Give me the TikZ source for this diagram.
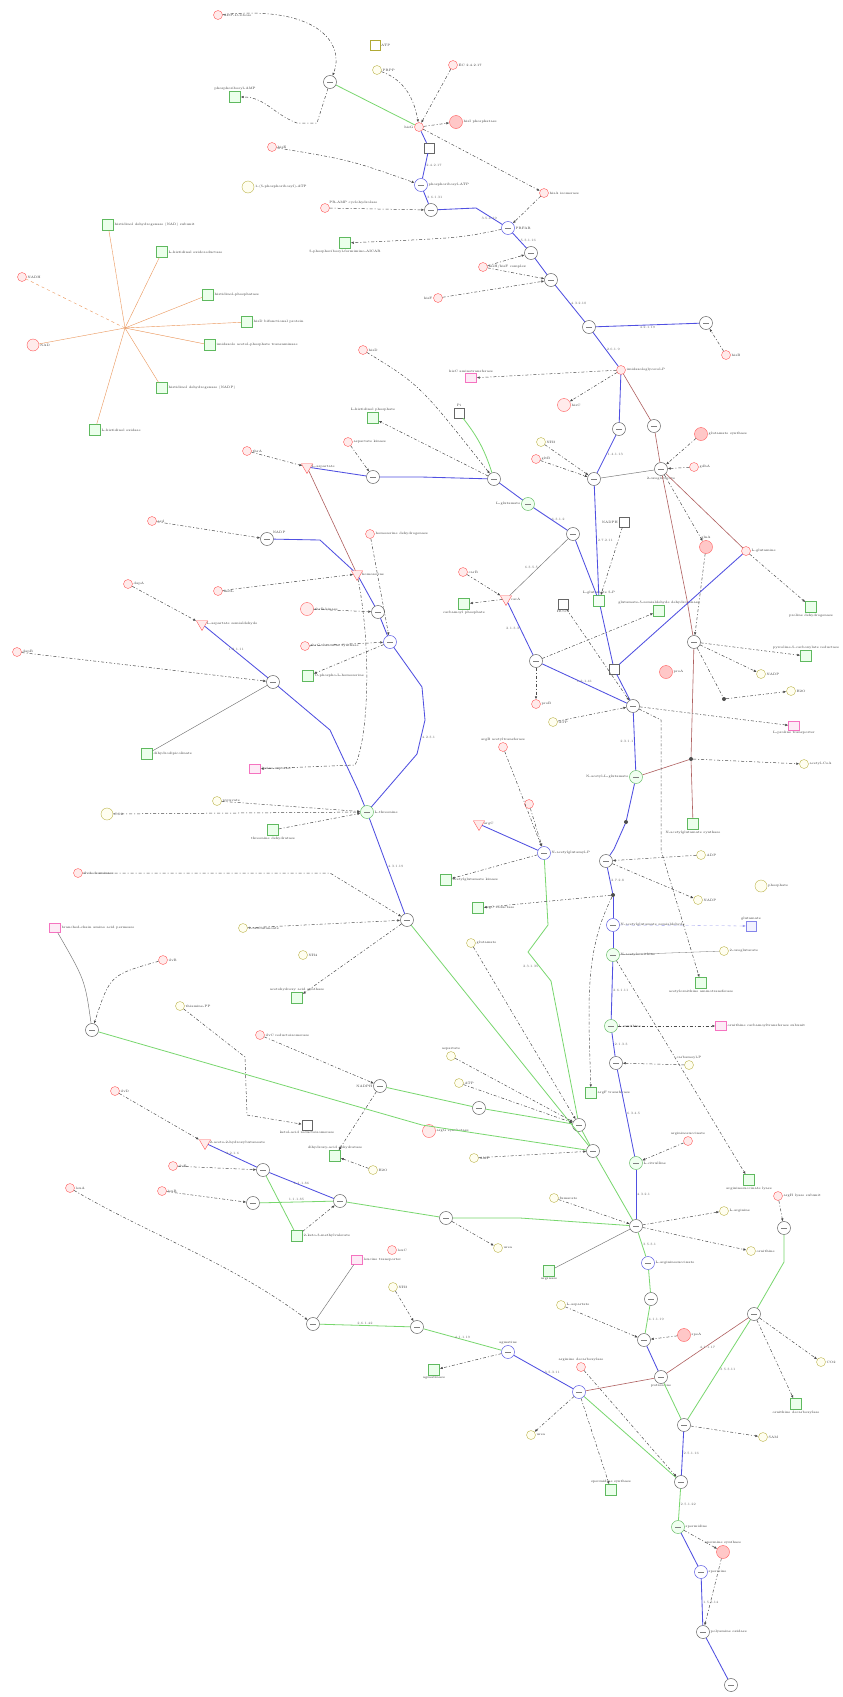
\documentclass[tikz,border=0pt]{standalone}
\usepackage{tikz}
\usetikzlibrary{arrows.meta,shapes.geometric}

\definecolor{sqgreen}{RGB}{95,185,95}
\definecolor{lngreen}{RGB}{120,215,110}
\definecolor{lnblue}{RGB}{80,80,225}
\definecolor{lnbrown}{RGB}{175,95,95}
\definecolor{lnorange}{RGB}{235,150,90}

\tikzset{
  lbl/.style={font=\fontsize{3.3}{3.8}\selectfont, text=black!80, inner sep=0.8pt},
  elbl/.style={lbl, text=black!60},
  proc/.style={circle, draw=black!65, fill=white, minimum size=13pt, inner sep=0pt, line width=0.45pt,
    path picture={\draw[black!50, line width=0.3pt] ([xshift=-3pt]path picture bounding box.center) -- ([xshift=3pt]path picture bounding box.center);}},
  bproc/.style={proc, draw=lnblue},
  gproc/.style={proc, draw=sqgreen, fill=green!6},
  rmol/.style={circle, draw=red!65, fill=red!8, minimum size=9pt, inner sep=0pt, line width=0.4pt},
  rbig/.style={rmol, minimum size=13pt, fill=red!22},
  rtri/.style={regular polygon, regular polygon sides=3, shape border rotate=180, draw=red!65, fill=red!8, minimum size=13pt, inner sep=0pt, line width=0.4pt},
  gsq/.style={rectangle, draw=sqgreen, fill=green!8, minimum size=11pt, inner sep=0pt, line width=0.45pt},
  tan/.style={circle, draw=olive!60, fill=yellow!6, minimum size=9pt, inner sep=0pt, line width=0.4pt},
  pbox/.style={rectangle, draw=magenta!55, fill=magenta!8, minimum width=11pt, minimum height=9pt, inner sep=0pt, line width=0.4pt},
  gbox/.style={rectangle, draw=black!60, fill=white, minimum size=10pt, inner sep=0pt, line width=0.4pt},
  dot/.style={circle, fill=black!70, minimum size=4pt, inner sep=0pt},
  bl/.style={draw=lnblue, line width=0.85pt},
  gr/.style={draw=lngreen, line width=0.8pt},
  br/.style={draw=lnbrown, line width=0.6pt},
  gy/.style={draw=black!55, line width=0.45pt},
  og/.style={draw=lnorange, line width=0.4pt},
  ds/.style={draw=black!70, line width=0.5pt, dash pattern=on 3pt off 2pt on 1pt off 2pt, -{Latex[length=3pt,width=2.5pt]}}
}

\begin{document}
\begin{tikzpicture}[x=1pt, y=-1pt]
  \useasboundingbox[fill=white] (0,0) rectangle (843,1697);

  % histidine branch, top
  \node[rmol, label={[lbl]right:ADP-D-ribose}] (n01) at (218,15) {};
  \node[proc] (p01) at (330,82) {};
  \node[gsq, label={[lbl]above:phosphoribosyl-AMP}] (s01) at (235,97) {};
  \node[gbox, draw=olive!70, label={[lbl]right:ATP}] (t01) at (375,45) {};
  \node[tan, label={[lbl]right:PRPP}] (t02) at (377,70) {};
  \node[rmol, label={[lbl]left:hisG}] (x01) at (419,127) {};
  \node[rmol, label={[lbl]right:EC 2.4.2.17}] (r02) at (453,65) {};
  \node[rbig, label={[lbl]right:hisI phosphatase}] (r03) at (456,122) {};
  \node[gbox] (q01) at (429,148) {};
  \node[bproc, label={[lbl]right:phosphoribosyl-ATP}] (b01) at (421,185) {};
  \node[rmol, label={[lbl]right:hisE}] (r04) at (272,147) {};
  \node[tan, minimum size=12pt, label={[lbl]right:1-(5-phosphoribosyl)-ATP}] (y01) at (248,187) {};
  \node[proc] (p02) at (431,210) {};
  \node[rmol, label={[lbl]above right:PR-AMP cyclohydrolase}] (r05) at (325,208) {};
  \node[gsq, label={[lbl]below:5-phosphoribosyl-formimino-AICAR}] (s02) at (345,243) {};
  \node[bproc, label={[lbl]right:PRFAR}] (b02) at (508,228) {};
  \node[rmol, label={[lbl]right:hisA isomerase}] (r06) at (544,193) {};
  \node[proc] (p03) at (531,253) {};
  \node[rmol, label={[lbl]right:hisH/hisF complex}] (r07) at (483,267) {};
  \node[proc] (p04) at (551,280) {};
  \node[rmol, label={[lbl]left:hisF}] (r08) at (438,298) {};
  \node[proc] (p05) at (589,327) {};
  \node[proc] (p06) at (706,323) {};
  \node[rmol, label={[lbl]right:hisB}] (r09) at (726,355) {};
  \node[rmol, label={[lbl]right:imidazoleglycerol-P}] (r10) at (621,370) {};
  \node[pbox, label={[lbl]above:hisC aminotransferase}] (k01) at (471,378) {};
  \node[rbig, fill=red!8, label={[lbl]right:hisC}] (r11) at (564,405) {};
  \node[gbox, label={[lbl]above:Pi}] (t03) at (459,413) {};

  % histidinol dehydrogenase hub
  \coordinate (h00) at (125,328);
  \node[gsq, label={[lbl]right:histidinol dehydrogenase (NAD) subunit}] (s03) at (108,225) {};
  \node[gsq, label={[lbl]right:L-histidinal oxidoreductase}] (s04) at (162,252) {};
  \node[gsq, label={[lbl]right:histidinol-phosphatase}] (s05) at (208,295) {};
  \node[gsq, label={[lbl]right:hisD bifunctional protein}] (s06) at (247,322) {};
  \node[gsq, label={[lbl]right:imidazole acetol-phosphate transaminase}] (s07) at (210,345) {};
  \node[gsq, label={[lbl]right:histidinol dehydrogenase (NADP)}] (s08) at (162,388) {};
  \node[gsq, label={[lbl]right:L-histidinol oxidase}] (s09) at (95,430) {};
  \node[rmol, label={[lbl]right:NADH}] (r12) at (22,277) {};
  \node[rmol, minimum size=12pt, label={[lbl]right:NAD}] (r13) at (33,345) {};
  \node[rmol, label={[lbl]right:hisD}] (r14) at (363,350) {};
  \node[gsq, label={[lbl]above:L-histidinol phosphate}] (s10) at (373,418) {};

  % central block
  \node[proc] (p07) at (619,429) {};
  \node[proc] (p08) at (654,426) {};
  \node[rbig, label={[lbl]right:glutamate synthase}] (r15) at (701,434) {};
  \node[tan, label={[lbl]right:NH3}] (t04) at (541,442) {};
  \node[rmol, label={[lbl]right:gltB}] (r16) at (536,459) {};
  \node[proc] (p09) at (494,479) {};
  \node[proc] (p10) at (594,479) {};
  \node[proc, label={[lbl]below:2-oxoglutarate}] (p11) at (661,469) {};
  \node[rmol, label={[lbl]right:gdhA}] (r17) at (694,467) {};
  \node[gproc, label={[lbl]left:L-glutamate}] (c01) at (528,504) {};
  \node[proc] (p12) at (573,534) {};
  \node[gbox, label={[lbl]left:NADPH}] (q02) at (624,522) {};
  \node[rbig, label={[lbl]above:glnA}] (r18) at (706,547) {};
  \node[rmol, label={[lbl]right:L-glutamine}] (r19) at (746,551) {};
  \node[rmol, label={[lbl]right:carB}] (r20) at (463,572) {};
  \node[rtri, label={[lbl]right:carA}] (rt1) at (506,599) {};
  \node[gsq, label={[lbl]below:carbamoyl phosphate}] (s11) at (464,604) {};
  \node[gsq, fill=green!4, label={[lbl]above:L-glutamate 5-P}] (c02) at (599,601) {};
  \node[gbox, label={[lbl]below:HCO3}] (q03) at (563,604) {};
  \node[gsq, label={[lbl]above:glutamate-5-semialdehyde dehydrogenase}] (s12) at (659,611) {};
  \node[gsq, label={[lbl]below:proline dehydrogenase}] (s13) at (811,607) {};
  \node[proc] (p13) at (694,642) {};
  \node[proc] (p14) at (536,661) {};
  \node[gbox] (q04) at (614,669) {};
  \node[rbig, label={[lbl]right:proA}] (r21) at (666,672) {};
  \node[gsq, label={[lbl]above:pyrroline-5-carboxylate reductase}] (s14) at (806,656) {};
  \node[tan, label={[lbl]right:NADP}] (t05) at (761,674) {};
  \node[tan, label={[lbl]right:H2O}] (t06) at (791,691) {};
  \node[proc] (p15) at (633,706) {};
  \node[dot] (d01) at (724,699) {};
  \node[tan, label={[lbl]right:ATP}] (t07) at (553,722) {};
  \node[pbox, label={[lbl]below:L-proline transporter}] (k02) at (794,726) {};
  \node[rmol, label={[lbl]right:proB}] (r22) at (536,704) {};
  \node[rmol, label={[lbl]above:argB acetyltransferase}] (r23) at (503,747) {};
  \node[dot] (d02) at (691,759) {};
  \node[tan, label={[lbl]right:acetyl-CoA}] (t08) at (804,764) {};
  \node[gproc, label={[lbl]left:N-acetyl-L-glutamate}] (c03) at (636,777) {};
  \node[rmol] (r24) at (529,804) {};
  \node[rtri, label={[lbl]right:argC}] (rt2) at (479,824) {};
  \node[dot] (d03) at (626,822) {};
  \node[gsq, label={[lbl]below:N-acetylglutamate synthase}] (s15) at (693,824) {};

  % left middle block
  \node[rmol, label={[lbl]right:thrA}] (r25) at (247,451) {};
  \node[rtri, label={[lbl]right:L-aspartate}] (rt3) at (307,467) {};
  \node[proc] (p16) at (373,477) {};
  \node[rmol, label={[lbl]right:aspartate kinase}] (r26) at (348,442) {};
  \node[rmol, label={[lbl]right:asd}] (r27) at (152,521) {};
  \node[proc, label={[lbl]above right:NADP}] (p17) at (267,539) {};
  \node[rtri, label={[lbl]right:homoserine}] (rt4) at (357,574) {};
  \node[rmol, label={[lbl]right:homoserine dehydrogenase}] (r28) at (370,534) {};
  \node[rmol, label={[lbl]right:dapA}] (r29) at (128,584) {};
  \node[rtri, label={[lbl]right:L-aspartate semialdehyde}] (rt5) at (202,624) {};
  \node[rmol, label={[lbl]right:metL}] (r30) at (218,591) {};
  \node[rbig, fill=red!8, label={[lbl]right:thrB kinase}] (r31) at (307,609) {};
  \node[proc] (p18) at (378,612) {};
  \node[rmol, label={[lbl]right:thrC threonine synthase}] (r32) at (305,646) {};
  \node[bproc] (b03) at (390,642) {};
  \node[gsq, label={[lbl]right:O-phospho-L-homoserine}] (s16) at (308,676) {};
  \node[rmol, label={[lbl]right:dapB}] (r33) at (17,652) {};
  \node[proc] (p19) at (273,682) {};
  \node[gsq, label={[lbl]right:dihydrodipicolinate}] (s17) at (147,754) {};
  \node[pbox, label={[lbl]right:lysine exporter}] (k03) at (255,769) {};
  \node[tan, label={[lbl]right:pyruvate}] (t09) at (217,801) {};
  \node[tan, minimum size=12pt, label={[lbl]right:CO2}] (t10) at (107,814) {};
  \node[gproc, label={[lbl]right:L-threonine}] (c04) at (367,812) {};
  \node[gsq, label={[lbl]below:threonine dehydratase}] (s18) at (273,830) {};

  % lower left block
  \node[rmol, label={[lbl]right:ilvA deaminase}] (r34) at (78,873) {};
  \node[proc] (q05) at (407,920) {};
  \node[pbox, label={[lbl]right:branched-chain amino acid permease}] (k04) at (55,928) {};
  \node[proc] (p20) at (92,1030) {};
  \node[rmol, label={[lbl]right:ilvB}] (r35) at (163,960) {};
  \node[tan, label={[lbl]right:2-oxobutanoate}] (t11) at (243,928) {};
  \node[tan, label={[lbl]right:NH4}] (t12) at (303,955) {};
  \node[gsq, label={[lbl]above:acetohydroxy acid synthase}] (s19) at (297,998) {};
  \node[tan, label={[lbl]right:thiamine-PP}] (t13) at (180,1006) {};
  \node[gbox, label={[lbl]below:ketol-acid reductoisomerase}] (q06) at (307,1125) {};
  \node[rmol, label={[lbl]right:ilvC reductoisomerase}] (r36) at (260,1035) {};
  \node[proc, label={[lbl]left:NADPH}] (p21) at (380,1086) {};
  \node[rmol, label={[lbl]right:ilvD}] (r37) at (115,1091) {};
  \node[rtri, label={[lbl]right:2-aceto-2-hydroxybutanoate}] (rt6) at (205,1143) {};
  \node[proc] (p22) at (263,1170) {};
  \node[proc] (p23) at (340,1201) {};
  \node[rmol, label={[lbl]right:ilvE}] (r38) at (173,1166) {};
  \node[rmol, label={[lbl]right:leuA}] (r39) at (70,1188) {};
  \node[rmol, label={[lbl]right:leuB}] (r40) at (162,1191) {};
  \node[proc] (p24) at (253,1203) {};
  \node[gsq, label={[lbl]above:dihydroxy-acid dehydratase}] (s20) at (335,1156) {};
  \node[gsq, label={[lbl]right:2-keto-3-methylvalerate}] (s21) at (297,1236) {};
  \node[tan, label={[lbl]right:H2O}] (t14) at (373,1170) {};
  \node[rmol, label={[lbl]right:leuC}] (r41) at (392,1250) {};
  \node[pbox, label={[lbl]right:leucine transporter}] (k05) at (357,1260) {};

  % arginine and proline, right side
  \node[bproc, label={[lbl]right:N-acetylglutamyl-P}] (b04) at (544,853) {};
  \node[gsq, label={[lbl]right:acetylglutamate kinase}] (s22) at (446,880) {};
  \node[proc] (x02) at (606,861) {};
  \node[tan, label={[lbl]right:ADP}] (t15) at (701,855) {};
  \node[tan, minimum size=12pt, label={[lbl]right:phosphate}] (y02) at (761,886) {};
  \node[tan, label={[lbl]right:NADP}] (t16) at (698,900) {};
  \node[gsq, label={[lbl]right:argC reductase}] (s23) at (478,908) {};
  \node[dot] (d04) at (613,895) {};
  \node[bproc, label={[lbl]right:N-acetylglutamate semialdehyde}] (b05) at (613,925) {};
  \node[rectangle, draw=lnblue!70, fill=blue!5, minimum size=10pt, inner sep=0pt, label={[lbl]above:glutamate}] (k06) at (751,926) {};
  \node[gproc, label={[lbl]right:N-acetylornithine}] (c05) at (613,955) {};
  \node[tan, label={[lbl]right:2-oxoglutarate}] (t17) at (724,951) {};
  \node[gsq, label={[lbl]below:acetylornithine aminotransferase}] (s24) at (701,983) {};
  \node[tan, label={[lbl]right:glutamate}] (t18) at (471,943) {};
  \node[gproc, label={[lbl]right:L-ornithine}] (c06) at (611,1026) {};
  \node[pbox, label={[lbl]right:ornithine carbamoyltransferase subunit}] (k07) at (721,1026) {};
  \node[proc] (p25) at (616,1063) {};
  \node[tan, label={[lbl]above:carbamoyl-P}] (t19) at (689,1065) {};
  \node[gsq, label={[lbl]right:argF transferase}] (s25) at (591,1093) {};
  \node[tan, label={[lbl]above:aspartate}] (t20) at (451,1056) {};
  \node[tan, label={[lbl]right:ATP}] (t21) at (459,1083) {};
  \node[proc] (p26) at (479,1108) {};
  \node[proc] (p27) at (579,1125) {};
  \node[rbig, fill=red!8, label={[lbl]right:argG synthetase}] (r42) at (429,1131) {};
  \node[proc] (p28) at (593,1151) {};
  \node[tan, label={[lbl]right:AMP}] (t22) at (474,1158) {};
  \node[gproc, label={[lbl]right:L-citrulline}] (c07) at (636,1163) {};
  \node[rmol, label={[lbl]above:argininosuccinate}] (r43) at (688,1141) {};
  \node[gsq, label={[lbl]below:argininosuccinate lyase}] (s26) at (749,1180) {};
  \node[rmol, label={[lbl]right:argH lyase subunit}] (r44) at (778,1196) {};
  \node[tan, label={[lbl]right:fumarate}] (t23) at (554,1198) {};
  \node[proc] (x03) at (636,1226) {};
  \node[proc] (p29) at (446,1218) {};
  \node[tan, label={[lbl]right:urea}] (t24) at (498,1248) {};
  \node[tan, label={[lbl]right:L-arginine}] (t25) at (724,1211) {};
  \node[proc] (p30) at (784,1228) {};
  \node[tan, label={[lbl]right:ornithine}] (t26) at (751,1251) {};
  \node[bproc, label={[lbl]right:L-argininosuccinate}] (b06) at (648,1263) {};
  \node[gsq, label={[lbl]below:arginase}] (s27) at (549,1271) {};

  % bottom block
  \node[proc] (p31) at (651,1299) {};
  \node[proc] (p32) at (754,1314) {};
  \node[tan, label={[lbl]right:L-aspartate}] (t27) at (561,1305) {};
  \node[bproc, label={[lbl]above:agmatine}] (b07) at (508,1352) {};
  \node[gsq, label={[lbl]below:agmatinase}] (s28) at (434,1370) {};
  \node[proc] (p33) at (644,1340) {};
  \node[rbig, label={[lbl]right:speA}] (r45) at (684,1335) {};
  \node[rmol, label={[lbl]above:arginine decarboxylase}] (r46) at (581,1367) {};
  \node[proc, label={[lbl]below:putrescine}] (x04) at (661,1377) {};
  \node[bproc] (b08) at (579,1392) {};
  \node[tan, label={[lbl]right:CO2}] (t28) at (821,1362) {};
  \node[gsq, label={[lbl]below:ornithine decarboxylase}] (s29) at (796,1404) {};
  \node[tan, label={[lbl]right:urea}] (t29) at (531,1435) {};
  \node[proc] (p34) at (684,1425) {};
  \node[tan, label={[lbl]right:SAM}] (t30) at (763,1437) {};
  \node[proc] (p35) at (681,1482) {};
  \node[gsq, label={[lbl]above:spermidine synthase}] (s30) at (611,1490) {};
  \node[gproc, label={[lbl]right:spermidine}] (c08) at (678,1527) {};
  \node[rbig, label={[lbl]above:spermine synthase}] (r47) at (723,1552) {};
  \node[bproc, label={[lbl]right:spermine}] (b09) at (701,1572) {};
  \node[proc, label={[lbl]right:polyamine oxidase}] (p36) at (703,1632) {};
  \node[proc] (p37) at (731,1685) {};
  \node[proc] (p38) at (313,1324) {};
  \node[proc] (p39) at (417,1327) {};
  \node[tan, label={[lbl]right:NH3}] (t31) at (393,1287) {};

  % solid connectors
  \draw[gr] (p01) -- (x01);
  \draw[bl] (x01) -- (q01);
  \draw[bl] (q01) -- node[elbl, right]{2.4.2.17} (b01);
  \draw[bl] (b01) -- node[elbl, right]{3.6.1.31} (p02);
  \draw[bl] (p02) -- (476,208) -- node[elbl, below]{3.5.4.19} (b02);
  \draw[bl] (b02) -- node[elbl, right]{5.3.1.16} (p03);
  \draw[bl] (p03) -- (p04);
  \draw[bl] (p04) -- node[elbl, right]{4.3.2.10} (p05);
  \draw[bl] (p05) -- node[elbl, below]{4.2.1.19} (p06);
  \draw[bl] (p05) -- node[elbl, right]{2.6.1.9} (r10);
  \draw[bl] (r10) -- (p07);
  \draw[br] (r10) -- (p08);
  \draw[br] (p08) -- (p11);
  \draw[bl] (p07) -- node[elbl, right]{1.4.1.13} (p10);
  \draw[gy] (p10) -- (p11);
  \draw[bl] (p16) -- (421,477) -- (p09);
  \draw[bl] (rt3) -- (p16);
  \draw[gr] (t03) to[bend left=10] (p09);
  \draw[bl] (p09) -- (c01);
  \draw[bl] (c01) -- node[elbl, right]{6.3.1.2} (p12);
  \draw[gy] (p12) -- node[elbl, left]{6.3.5.5} (rt1);
  \draw[bl] (p12) -- (c02);
  \draw[bl] (p10) -- node[elbl, right]{2.7.2.11} (c02);
  \draw[br] (p11) -- (687,600) -- (p13);
  \draw[br] (p11) -- (r19);
  \draw[bl] (rt1) -- node[elbl, left]{2.1.3.3} (p14);
  \draw[bl] (r19) -- (q04);
  \draw[bl] (c02) -- (q04);
  \draw[bl] (q04) -- (p15);
  \draw[bl] (p14) -- node[elbl, above]{1.2.1.41} (p15);
  \draw[bl] (p15) -- node[elbl, left]{2.3.1.1} (c03);
  \draw[bl] (c03) -- (d03);
  \draw[br] (p13) -- (d02);
  \draw[br] (d02) -- (s15);
  \draw[br] (c03) -- (d02);
  \draw[bl] (d03) -- (614,849) -- (x02);
  \draw[bl] (x02) -- node[elbl, right]{2.7.2.8} (d04);
  \draw[bl] (d04) -- (b05);
  \draw[bl] (b05) -- (c05);
  \draw[bl] (c05) -- node[elbl, right]{2.6.1.11} (c06);
  \draw[bl] (c06) -- node[elbl, right]{2.1.3.3} (p25);
  \draw[bl] (p25) -- node[elbl, right]{6.3.4.5} (c07);
  \draw[bl] (c07) -- node[elbl, right]{4.3.2.1} (x03);
  \draw[gr] (x03) -- node[elbl, right]{3.5.3.1} (b06);
  \draw[gr] (b06) -- (p31);
  \draw[gr] (p31) -- node[elbl, right]{4.1.1.19} (p33);
  \draw[bl] (p33) -- (x04);
  \draw[gr] (x04) -- (p34);
  \draw[bl] (p34) -- node[elbl, right]{2.5.1.16} (p35);
  \draw[gr] (p35) -- node[elbl, right]{2.5.1.22} (c08);
  \draw[bl] (c08) -- (b09);
  \draw[bl] (b09) -- node[elbl, right]{1.5.3.14} (p36);
  \draw[bl] (p36) -- (p37);
  \draw[br] (p32) -- node[elbl, below]{4.1.1.17} (x04);
  \draw[gr] (p32) -- node[elbl, right]{3.5.3.11} (p34);
  \draw[gr] (p30) -- (784,1262) -- (p32);
  \draw[bl] (b07) -- node[elbl, right]{3.5.3.11} (b08);
  \draw[br] (b08) -- (x04);
  \draw[gr] (b08) -- (p35);
  \draw[gr] (p38) -- node[elbl, above]{2.6.1.42} (p39);
  \draw[gr] (p39) -- node[elbl, above]{4.1.1.19} (b07);

  \draw[br] (rt3) -- (rt4);
  \draw[bl] (p17) -- (320,540) -- (rt4);
  \draw[bl] (rt4) -- (p18);
  \draw[bl] (p18) -- (b03);
  \draw[bl] (b03) -- (422,687) -- (425,720) -- node[elbl, right]{4.2.3.1} (417,754) -- (c04);
  \draw[bl] (rt5) -- node[elbl, above]{1.2.1.11} (p19);
  \draw[bl] (p19) -- (330,730) -- (358,790) -- (c04);
  \draw[gy] (p19) -- (s17);
  \draw[bl] (c04) -- node[elbl, right]{4.3.1.19} (q05);
  \draw[gr] (q05) -- (p28);
  \draw[gr] (b04) -- (548,925) -- (528,952) -- node[elbl, left]{2.3.1.35} (551,981) -- (p27);
  \draw[gr] (p20) -- (300,1090) -- (422,1125) -- (p28);
  \draw[gr] (p21) -- (p26);
  \draw[gr] (p26) -- (p27);
  \draw[gr] (p27) -- (p28);
  \draw[gr] (p28) -- (x03);
  \draw[gr] (p24) -- node[elbl, above]{1.1.1.85} (p23);
  \draw[bl] (rt6) -- node[elbl, above]{2.2.1.6} (p22);
  \draw[bl] (p22) -- node[elbl, above]{1.1.1.86} (p23);
  \draw[gr] (p23) -- (p29) -- (520,1218) -- (x03);
  \draw[gr] (p22) -- (s21);
  \draw[gy] (x03) -- (580,1255) -- (s27);
  \draw[gy] (k05) -- (p38);
  \draw[gy] (k04) .. controls (85,980) .. (p20);
  \draw[bl] (rt2) -- (b04);

  % orange spokes
  \foreach \t in {s03,s04,s05,s06,s07,s08,s09,r13}
    \draw[og] (h00) -- (\t);
  \draw[og, dashed] (h00) -- (r12);

  % dashed modifiers
  \draw[ds] (n01) .. controls (320,5) and (345,45) .. (p01);
  \draw[ds] (p01) -- (317,123) -- (297,123) to[out=160,in=0] (s01);
  \draw[ds] (t02) to[out=-20,in=100] (x01);
  \draw[ds] (r02) -- (x01);
  \draw[ds] (x01) -- (r03);
  \draw[ds] (x01) -- (r06);
  \draw[ds] (r06) -- (b02);
  \draw[ds] (r04) .. controls (350,160) .. (b01);
  \draw[ds] (r05) -- (p02);
  \draw[ds] (b02) .. controls (460,238) .. (s02);
  \draw[ds] (r07) -- (p03);
  \draw[ds] (r07) -- (p04);
  \draw[ds] (r08) -- (p04);
  \draw[ds] (r09) -- (p06);
  \draw[ds] (r10) -- (k01);
  \draw[ds] (r10) -- (r11);
  \draw[ds] (r14) .. controls (420,385) .. (p09);
  \draw[ds] (p09) -- (s10);
  \draw[ds] (t04) -- (p10);
  \draw[ds] (r16) -- (p10);
  \draw[ds] (r15) -- (p11);
  \draw[ds] (r17) -- (p11);
  \draw[ds] (r19) -- (s13);
  \draw[ds] (p11) -- (r18);
  \draw[ds] (r18) -- (p13);
  \draw[ds] (q02) -- (c02);
  \draw[ds] (r20) -- (rt1);
  \draw[ds] (rt1) -- (s11);
  \draw[ds] (p14) -- (s12);
  \draw[ds] (p14) -- (r22);
  \draw[ds] (p13) -- (s14);
  \draw[ds] (p13) -- (t05);
  \draw[ds] (p15) -- (k02);
  \draw[ds] (p13) -- (d01) -- (t06);
  \draw[ds] (q03) -- (p15);
  \draw[ds] (t07) -- (p15);
  \draw[ds] (d02) -- (t08);
  \draw[ds] (r23) -- (b04);
  \draw[ds] (r24) -- (b04);
  \draw[ds] (b04) -- (s22);
  \draw[ds] (d04) -- (s23);
  \draw[ds] (t15) -- (x02);
  \draw[ds] (x02) -- (t16);
  \draw[ds] (d04) .. controls (585,950) and (588,1000) .. (s25);
  \draw[ds] (p15) -- (661,720) -- (661,850) -- (s24);
  \draw[ds] (c05) -- (s26);
  \draw[draw=lnblue!60, line width=0.3pt, dashed, -{Latex[length=3pt]}] (b05) -- (k06);
  \draw[gy, line width=0.3pt] (c05) -- (t17);
  \draw[ds] (c06) -- (k07);
  \draw[ds] (t19) -- (p25);
  \draw[ds] (t18) -- (p27);
  \draw[ds] (t20) -- (p27);
  \draw[ds] (t21) -- (p27);
  \draw[ds] (t22) -- (p28);
  \draw[ds] (r43) -- (c07);
  \draw[ds] (t23) -- (x03);
  \draw[ds] (x03) -- (t25);
  \draw[ds] (x03) -- (t26);
  \draw[ds] (r44) -- (p30);
  \draw[ds] (p29) -- (t24);
  \draw[ds] (t27) -- (p33);
  \draw[ds] (r45) -- (p33);
  \draw[ds] (r46) -- (p35);
  \draw[ds] (b08) -- (t29);
  \draw[ds] (b08) -- (s30);
  \draw[ds] (b07) -- (s28);
  \draw[ds] (p32) -- (t28);
  \draw[ds] (p32) -- (s29);
  \draw[ds] (p34) -- (t30);
  \draw[ds] (c08) -- (r47);
  \draw[ds] (r47) -- (p36);
  \draw[ds] (t31) -- (p39);
  \draw[ds] (r39) .. controls (150,1235) and (230,1262) .. (p38);
  \draw[ds] (r34) -- (330,873) -- (q05);
  \draw[ds] (t11) -- (q05);
  \draw[ds] (q05) -- (s19);
  \draw[ds] (r35) .. controls (110,975) .. (p20);
  \draw[ds] (t13) -- (245,1057) -- (247,1115) -- (q06);
  \draw[ds] (r36) -- (p21);
  \draw[ds] (r37) -- (rt6);
  \draw[ds] (r38) -- (p22);
  \draw[ds] (r40) -- (p24);
  \draw[ds] (p21) -- (s20);
  \draw[ds] (t14) -- (s20);
  \draw[ds] (s21) -- (p23);
  \draw[ds] (r25) -- (rt3);
  \draw[ds] (r26) -- (p16);
  \draw[ds] (r27) -- (p17);
  \draw[ds] (r28) -- (b03);
  \draw[ds] (r29) -- (rt5);
  \draw[ds] (r30) -- (rt4);
  \draw[ds] (r31) -- (p18);
  \draw[ds] (r32) -- (b03);
  \draw[ds] (b03) -- (s16);
  \draw[ds] (r33) -- (p19);
  \draw[ds] (rt4) .. controls (372,650) and (368,740) .. (355,765) -- (k03);
  \draw[ds] (t10) -- (c04);
  \draw[ds] (s18) -- (c04);
  \draw[ds] (t09) -- (c04);
\end{tikzpicture}
\end{document}
